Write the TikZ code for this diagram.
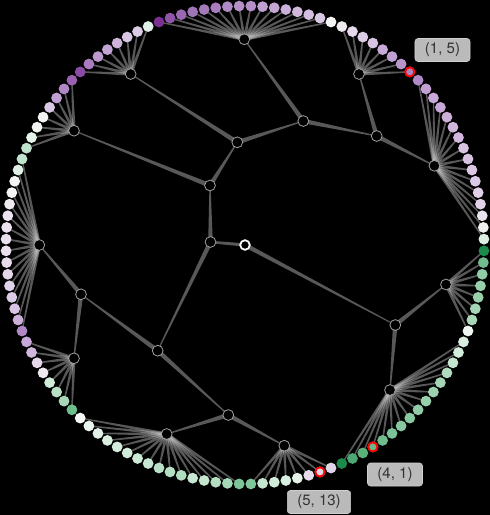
\documentclass[tikz,border=0pt]{standalone}
\usepackage{fontspec}
\newfontfamily\TagFont{TeX Gyre Heros}
\usetikzlibrary{calc}
\pgfdeclarelayer{backdrop}
\pgfdeclarelayer{branches}
\pgfsetlayers{backdrop,branches,main}
\definecolor{BranchGray}{HTML}{585858}
\definecolor{FanGray}{HTML}{C4C4C4}
\definecolor{InnerRing}{HTML}{A0A0A0}
\definecolor{TagFill}{HTML}{BABABA}
\definecolor{TagDraw}{HTML}{CFCFCF}
\definecolor{TagText}{HTML}{333333}
\NewDocumentCommand{\DrawBranch}{O{} m m m m}{%
    \def\BranchFrom{#2}
    \def\BranchTo{#3}
    \def\BranchWidthFrom{#4}
    \def\BranchWidthTo{#5}
    %
    \begin{pgfonlayer}{branches}
      \fill [#1] ($(\BranchFrom)!\BranchWidthFrom!90:(\BranchTo)$)
          -- ($(\BranchTo)!\BranchWidthTo!-90:(\BranchFrom)$)
          -- ($(\BranchTo)!\BranchWidthTo!90:(\BranchFrom)$)
          -- ($(\BranchFrom)!\BranchWidthFrom!-90:(\BranchTo)$) -- cycle;
    \end{pgfonlayer}
}

\begin{document}
\begin{tikzpicture}[
    x=1pt, y=-1pt,% pixel grid of the reference
    inner/.style={circle, fill=black, draw=InnerRing, line width=0.8pt, minimum size=10.8pt, inner sep=0pt},
    root/.style={inner, draw=white, line width=1.8pt, minimum size=9.6pt},
    leaf/.style={circle, inner sep=0pt, minimum size=10.8pt},
    picked/.style={circle, inner sep=0pt, draw=red, line width=1.8pt, minimum size=9.2pt},
    branch/.style={fill=BranchGray},
    fan/.style={fill=FanGray, fill opacity=0.45},
    tag/.style={rounded corners=3pt, fill=TagFill, draw=TagDraw, line width=0.6pt, text=TagText,
        font=\TagFont\fontsize{15}{15}\selectfont, inner xsep=10pt, inner ysep=0pt, minimum height=23pt}
    ]

    \useasboundingbox (0,0) rectangle (490,515);
    \begin{pgfonlayer}{backdrop}
      \fill[black] (0,0) rectangle (490,515);
    \end{pgfonlayer}

    % inner nodes
    \node[root]  (root) at (245,245) {};
    \node[inner] (a) at (210.5,242) {};
    \node[inner] (b) at (210,185.5) {};
    \node[inner] (c) at (237.3,142.3) {};
    \node[inner] (d) at (303.3,121) {};
    \node[inner] (e) at (244.3,39.3) {};
    \node[inner] (f) at (376.7,136) {};
    \node[inner] (g) at (359,74) {};
    \node[inner] (h) at (434.4,165.8) {};
    \node[inner] (i) at (130.7,74) {};
    \node[inner] (j) at (74,130.7) {};
    \node[inner] (k) at (39.3,245) {};
    \node[inner] (l) at (81,294.3) {};
    \node[inner] (m) at (157.7,350.7) {};
    \node[inner] (n) at (74,358.3) {};
    \node[inner] (o) at (228.3,415) {};
    \node[inner] (p) at (166.7,434) {};
    \node[inner] (q) at (284.3,445.7) {};
    \node[inner] (r) at (395.3,325) {};
    \node[inner] (s) at (446,284.5) {};
    \node[inner] (t) at (390,390) {};

    \DrawBranch[branch]{root}{a}{1.7pt}{1.2pt}
    \DrawBranch[branch]{root}{r}{2.2pt}{0.5pt}
    \foreach \up/\down in {a/b, a/m, b/c, b/j, c/d, c/i, d/e, d/f, f/g, f/h,
        m/l, m/o, l/k, l/n, o/p, o/q, r/s, r/t}
        \DrawBranch[branch]{\up}{\down}{2.3pt}{0.55pt};

    % leaves on the ring, with their fan node
    \foreach \idx/\hex/\fan in {
        0/1B8A4A/s,
        1/DCEFE2/h, 2/F0F0F0/h, 3/EBE2EF/h, 4/E0D0E8/h, 5/E0D0E8/h, 6/DCCBE6/h, 7/DCC8E5/h, 8/D8C2E2/h,
        9/D8C2E2/h, 10/D2B8DE/h, 11/D0B5DC/h, 12/CCB0DA/h, 13/C8A8D8/h, 14/C8A8D8/h, 15/C2A0D4/h, 16/B08AC6/h,
        17/A884C0/g, 18/B896CC/g, 19/C0A0D2/g, 20/C8AAD8/g, 21/D8C4E2/g, 22/DCCBE5/g, 23/E4D8EA/g, 24/EEEAF0/g,
        25/F4F4F4/e, 26/D8C8E4/e, 27/D4BEDF/e, 28/D0B8DC/e, 29/CAB0DA/e, 30/C4A4D4/e, 31/C0A0D2/e, 32/B590C8/e,
        33/B590C8/e, 34/B08AC6/e, 35/A87CBE/e, 36/A47AB9/e, 37/A075B8/e, 38/9A68B2/e, 39/8E55A8/e, 40/7B2F94/e,
        41/E0F0E8/i, 42/DCCBE5/i, 43/D8C6E2/i, 44/CDB2DA/i, 45/C4A4D4/i, 46/BC98CE/i, 47/A87CBE/i, 48/8A4AA6/i,
        49/9A60B2/j, 50/B088C6/j, 51/C0A0D2/j, 52/D8C8E4/j, 53/F4F4F4/j, 54/F2F4F2/j, 55/E4F2E8/j, 56/BFE3CC/j,
        57/BFE3CC/k, 58/E0F0E6/k, 59/F4F4F4/k, 60/F4F2F4/k, 61/EEEAF0/k, 62/ECE4F0/k, 63/EBE2EF/k, 64/E9E0EE/k,
        65/E9E0EE/k, 66/E6DCEC/k, 67/E4D8EA/k, 68/E0D2E8/k, 69/DCCBE5/k, 70/D8C4E2/k, 71/CCB0DA/k, 72/B088C6/k,
        73/C8A8D8/n, 74/D0B8DC/n, 75/E4D8EA/n, 76/EEEAF0/n, 77/D0ECD8/n, 78/B8E0C6/n, 79/A8D8B8/n, 80/6CBF8C/n,
        81/F4F8F4/p, 82/E8F4EC/p, 83/E0F0E6/p, 84/D8EEDF/p, 85/D4ECDC/p, 86/D0EBD9/p, 87/CCE9D6/p, 88/C8E7D2/p,
        89/B8E0C6/p, 90/B4DFC3/p, 91/B0DDC0/p, 92/C8E7D2/p, 93/C4E5CE/p, 94/B4DEC2/p, 95/A4D8B6/p, 96/7CC49A/p,
        97/80C69C/q, 98/C4E5CE/q, 99/D0EBD8/q, 100/D8EEDF/q, 101/E4F2E8/q, 102/E6DCEC/q, 103/E4D8EA/q, 104/E0D4E8/q,
        105/1B8A4A/t, 106/4EA772/t, 107/5CB07C/t, 108/6CB88A/t, 109/70BC8C/t, 110/7CC298/t, 111/88C8A0/t, 112/88C8A0/t,
        113/90CCA6/t, 114/98D0AC/t, 115/9CD2B0/t, 116/A4D6B6/t, 117/B0DCC0/t, 118/C4E5CE/t, 119/D4ECDC/t, 120/D8EEDF/t,
        121/F0F6F2/s, 122/A8D8B8/s, 123/A4D6B6/s, 124/98D0AC/s, 125/98D0AC/s, 126/90CCA6/s, 127/70BC8C/s}{
        \pgfmathsetmacro\LeafAngle{2.8125*(\idx-0.5)}
        \definecolor{LeafFill}{HTML}{\hex}
        \node[leaf, fill=LeafFill] (leaf\idx) at ({245+239*cos(\LeafAngle)},{245-239*sin(\LeafAngle)}) {};
        \DrawBranch[fan]{\fan}{leaf\idx}{1.7pt}{0.6pt}
    }

    % picked leaves and their tags
    \foreach \idx in {17,103,108}
        \node[picked] (ring\idx) at (leaf\idx) {};
    \node[tag] (tag17) at (442.5,50) {(1, 5)};
    \node[tag] (tag108) at (395,474.5) {(4, 1)};
    \node[tag] (tag103) at (319,502) {(5, 13)};

\end{tikzpicture}
\end{document}
